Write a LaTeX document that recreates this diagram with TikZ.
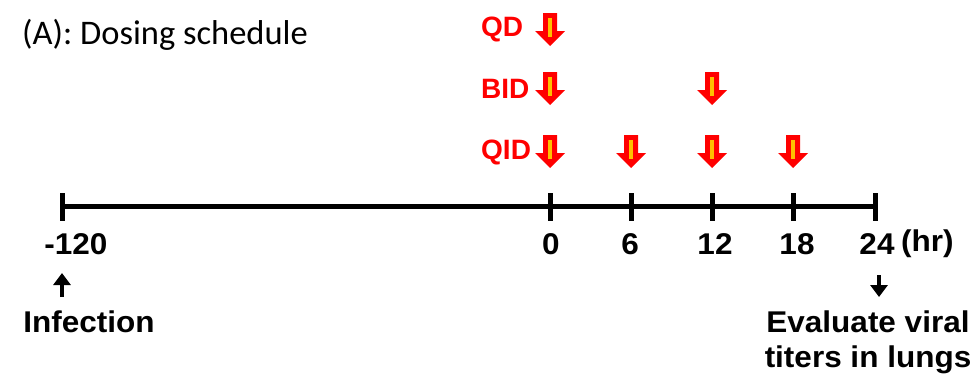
\documentclass[tikz,border=0pt]{standalone}
\usepackage{fontspec}
\setmainfont{Liberation Sans}
\newfontfamily\calib{Carlito}
\newfontfamily\widesans[FakeStretch=1.05]{Liberation Sans}
\usetikzlibrary{arrows.meta}
\definecolor{dosered}{RGB}{255,0,0}
\definecolor{doseyellow}{RGB}{255,192,0}
\tikzset{
  lbl/.style={font=\fontsize{30}{30}\selectfont\widesans\bfseries, inner sep=0pt},
  red lbl/.style={font=\fontsize{28}{30}\selectfont\bfseries, text=dosered, inner sep=0pt, anchor=west},
  axis/.style={line width=5pt},
  tick/.style={line width=5pt},
  blk arrow/.style={line width=4.5pt, -{Triangle[width=17pt,length=12pt]}},
  pics/dose/.style={code={
    \fill[dosered] (-7,0) -- (7,0) -- (7,18) -- (15,18) -- (0,33) -- (-15,18) -- (-7,18) -- cycle;
    \draw[doseyellow, line width=3.5pt] (0,5) -- (0,24);
  }}
}
\begin{document}
\begin{tikzpicture}[x=1pt,y=-1pt]
\useasboundingbox (0,0) rectangle (979,376);
\node[font=\fontsize{34.5}{36}\selectfont\calib, anchor=west, inner sep=0pt] (title) at (22,35) {(A): Dosing schedule};
% axis
\coordinate (a0) at (62,206);
\coordinate (a1) at (875,206);
\draw[axis] (a0) -- (a1);
\foreach \x/\n in {62/m120,550/t0,631/t6,712/t12,793/t18,875/t24}{
  \coordinate (k\n) at (\x,206);
  \draw[tick] (\x,193) -- (\x,221);
}
\node[lbl] (lm120) at (76,244) {-120};
\node[lbl] (l0) at (551,244) {0};
\node[lbl] (l6) at (630,244) {6};
\node[lbl] (l12) at (715,244) {12};
\node[lbl] (l18) at (797,244) {18};
\node[lbl] (l24) at (877,244) {24};
\node[lbl, anchor=west] (hr) at (901,244) {(hr)};
% infection
\node[lbl] (inf) at (89,322) {Infection};
\coordinate (infa) at (62,297);
\coordinate (infb) at (62,273);
\draw[blk arrow] (infa) -- (infb);
% evaluate
\node[lbl, align=center] (eval) at (868,342) {Evaluate viral\\[5pt]titers in lungs};
\coordinate (eva) at (879,275);
\coordinate (evb) at (879,297);
\draw[blk arrow] (eva) -- (evb);
% dosing
\node[red lbl] (qd) at (481,29) {QD};
\node[red lbl] (bid) at (481,89) {BID};
\node[red lbl] (qid) at (481,152) {QID};
\pic at (550,13) {dose};
\pic at (550,72) {dose};
\pic at (712,72) {dose};
\pic at (550,135) {dose};
\pic at (631,135) {dose};
\pic at (712,135) {dose};
\pic at (793,135) {dose};
\end{tikzpicture}
\end{document}
